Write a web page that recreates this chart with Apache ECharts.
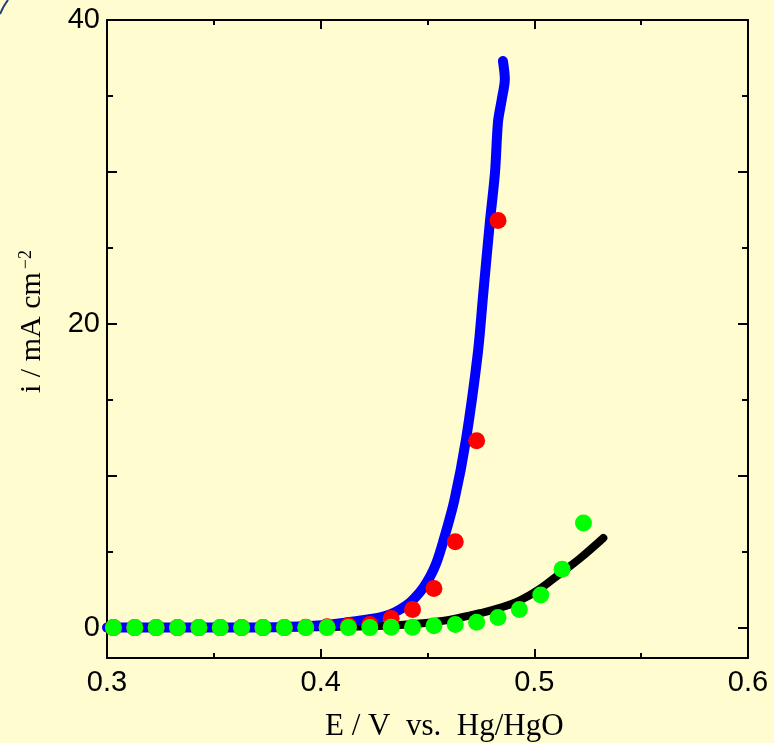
<!DOCTYPE html>
<html>
<head>
<meta charset="utf-8">
<script src="https://cdn.jsdelivr.net/npm/echarts@6/dist/echarts.min.js"></script>
<style>
  html, body { margin: 0; padding: 0; background: #FFFDD0; }
  #chart { width: 774px; height: 743px; }
</style>
</head>
<body>
<div id="chart"></div>
<script>
// Polarisation curves: current density vs. potential (Hg/HgO reference)
const blueE = [0.300, 0.3669, 0.3903, 0.4044, 0.4114, 0.4198, 0.4278, 0.4325, 0.4371, 0.4418, 0.4446, 0.4479, 0.4512, 0.454, 0.4572, 0.4626, 0.468, 0.4735, 0.4761, 0.4792, 0.4816, 0.483, 0.4848, 0.4862, 0.4853];
const blueI = [0.0, 0.01, 0.07, 0.2, 0.33, 0.49, 0.67, 0.87, 1.19, 1.65, 2.04, 2.6, 3.35, 4.2, 5.6, 8.4, 12.36, 18.0, 22.0, 26.7, 29.97, 33.3, 34.8, 36.1, 37.3];

const blackE = [0.300, 0.380, 0.410, 0.430, 0.445, 0.455, 0.465, 0.4745, 0.4839, 0.4933, 0.5026, 0.512, 0.5213, 0.5323];
const blackI = [0.0, 0.0, 0.05, 0.12, 0.25, 0.4, 0.65, 0.95, 1.3, 1.8, 2.55, 3.55, 4.55, 5.9];

const redE = [0.303, 0.313, 0.323, 0.333, 0.343, 0.353, 0.363, 0.373, 0.383, 0.393, 0.403, 0.413, 0.423, 0.433, 0.443, 0.453, 0.463, 0.473, 0.483];
const redI = [0, 0, 0, 0, 0, 0, 0, 0, 0, 0.03, 0.05, 0.12, 0.2, 0.6, 1.2, 2.58, 5.66, 12.3, 26.8];

const greenE = [0.303, 0.313, 0.323, 0.333, 0.343, 0.353, 0.363, 0.373, 0.383, 0.393, 0.403, 0.413, 0.423, 0.433, 0.443, 0.453, 0.463, 0.473, 0.483, 0.493, 0.503, 0.513, 0.523];
const greenI = [0, 0, 0, 0, 0, 0, 0, 0, 0, 0, 0, 0, 0, 0.03, 0.03, 0.12, 0.21, 0.36, 0.67, 1.2, 2.14, 3.84, 6.89];

const xTickLabels = [0.3, 0.4, 0.5, 0.6];
const yLabelValues = [0, 20, 40];
const yMajorTicks = [0, 10, 20, 30, 40];
const yMinorTicks = [5, 15, 25, 35];

const pairs = (xs, ys) => xs.map((x, i) => [x, ys[i]]);

const AXIS_COLOR = '#000';
const FONT_SANS = '"Liberation Sans", Arial, sans-serif';
const FONT_SERIF = '"Liberation Serif", "Times New Roman", serif';

function xAxisDef(position, showLabels) {
  return {
    type: 'value', position: position, min: 0.3, max: 0.6, interval: 0.1,
    axisLine: { show: true, onZero: false, lineStyle: { color: AXIS_COLOR, width: 2 } },
    axisTick: { show: true, inside: true, length: 9, lineStyle: { color: AXIS_COLOR, width: 2 } },
    minorTick: { show: true, splitNumber: 2, length: 5, lineStyle: { color: AXIS_COLOR, width: 2 } },
    splitLine: { show: false },
    axisLabel: {
      show: showLabels, margin: 10, color: '#000', fontSize: 29, fontFamily: FONT_SANS,
      formatter: v => xTickLabels.some(t => Math.abs(t - v) < 1e-9) ? v.toFixed(1) : ''
    }
  };
}

function yAxisDef(position, ticks, len, showLine, showLabels) {
  return {
    type: 'value', position: position, min: -2, max: 40,
    axisLine: { show: showLine, onZero: false, lineStyle: { color: AXIS_COLOR, width: 2 } },
    axisTick: { show: true, inside: true, length: len, customValues: ticks, lineStyle: { color: AXIS_COLOR, width: 2 } },
    splitLine: { show: false },
    axisLabel: {
      show: showLabels, customValues: yLabelValues, margin: 7, color: '#000', fontSize: 29, fontFamily: FONT_SANS
    }
  };
}

const chart = echarts.init(document.getElementById('chart'), null, { renderer: 'canvas' });
chart.setOption({
  backgroundColor: '#FFFDD0',
  animation: false,
  grid: { left: 107, top: 20, right: 26, bottom: 85, containLabel: false },
  xAxis: [xAxisDef('bottom', true), xAxisDef('top', false)],
  yAxis: [
    yAxisDef('left', yMajorTicks, 10, true, true),
    yAxisDef('left', yMinorTicks, 6, false, false),
    yAxisDef('right', yMajorTicks, 10, true, false),
    yAxisDef('right', yMinorTicks, 6, false, false)
  ],
  graphic: [
    {
      type: 'text', x: 32, y: 393, rotation: Math.PI / 2,
      style: {
        text: '{m|i / mA cm}{s|\u22122}',
        align: 'left', verticalAlign: 'middle',
        rich: {
          m: { fontSize: 30, fontFamily: FONT_SERIF, fill: '#000' },
          s: { fontSize: 18, fontFamily: FONT_SERIF, fill: '#000', verticalAlign: 'top', padding: [0, 0, 0, 3] }
        }
      }
    },
    {
      type: 'text', x: 325, y: 727,
      style: {
        text: 'E / V  vs.  Hg/HgO', fontSize: 31, fontFamily: FONT_SERIF, fill: '#000',
        align: 'left', verticalAlign: 'middle'
      }
    },
    {
      type: 'polyline', shape: { points: [[0, 14], [4, 6], [8, 0]], smooth: 0.3 },
      style: { stroke: '#243C78', lineWidth: 2, fill: null }
    }
  ],
  series: [
    {
      name: 'black', type: 'line', xAxisIndex: 0, yAxisIndex: 0, data: pairs(blackE, blackI),
      showSymbol: false, symbol: 'none', smooth: 0.4,
      lineStyle: { color: '#000', width: 8, cap: 'round', join: 'round' }, z: 2
    },
    {
      name: 'blue', type: 'line', xAxisIndex: 0, yAxisIndex: 0, data: pairs(blueE, blueI),
      showSymbol: false, symbol: 'none', smooth: 0.3,
      lineStyle: { color: '#0000FF', width: 10, cap: 'round', join: 'round' }, z: 3
    },
    {
      name: 'red', type: 'scatter', xAxisIndex: 0, yAxisIndex: 0, data: pairs(redE, redI),
      symbol: 'circle', symbolSize: 17, itemStyle: { color: '#FF0000', opacity: 1 }, z: 4
    },
    {
      name: 'green', type: 'scatter', xAxisIndex: 0, yAxisIndex: 0, data: pairs(greenE, greenI),
      symbol: 'circle', symbolSize: 17, itemStyle: { color: '#00FF00', opacity: 1 }, z: 5
    }
  ]
});
</script>
</body>
</html>
